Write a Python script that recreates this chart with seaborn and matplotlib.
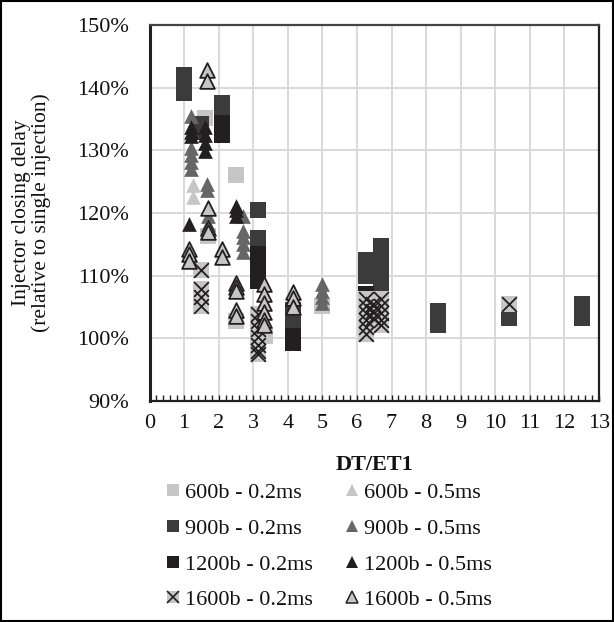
import matplotlib
matplotlib.use("Agg")
import matplotlib.pyplot as plt
from matplotlib.lines import Line2D
from matplotlib.legend_handler import HandlerTuple
from matplotlib.patches import Rectangle
from matplotlib.ticker import MultipleLocator, FuncFormatter
import seaborn as sns
import pandas as pd

# DT/ET1 ratio and closing delay (% of single injection) per rail pressure / ET1
x_600_02 = [1.6, 2.5, 2.5, 3.35, 5.0, 1.7]
y_600_02 = [135.2, 126.0, 102.8, 100.3, 105.2, 116.3]

x_600_05 = [1.25, 1.25]
y_600_05 = [124.5, 122.6]

x_900_02 = [1.0, 1.0, 1.0, 2.1, 2.1, 1.5, 1.5, 3.13, 3.13, 4.15, 4.15, 4.15,
            6.26, 6.26, 6.26, 6.7, 6.7, 6.7, 6.7, 6.7, 8.35, 8.35, 8.35,
            10.4, 12.5, 12.5, 12.5]
y_900_02 = [142.0, 140.6, 139.2, 137.5, 136.3, 134.2, 133.0, 120.5, 116.0,
            104.5, 103.5, 102.6, 112.5, 111.2, 110.0, 114.7, 113.0, 111.2,
            109.5, 108.0, 104.3, 103.2, 102.2, 103.3, 105.4, 104.3, 103.2]

x_900_05 = [1.2, 1.2, 1.2, 1.2, 1.2, 1.67, 1.67, 1.7, 1.7, 2.7, 2.7, 2.7,
            2.7, 2.7, 5.0, 5.0, 5.0, 5.0]
y_900_05 = [135.5, 130.3, 129.2, 128.1, 127.0, 124.7, 123.7, 119.5, 118.2,
            119.6, 117.2, 116.2, 115.0, 113.8, 108.6, 107.6, 106.6, 105.6]

x_1200_02 = [2.1, 2.1, 2.1, 3.13, 3.13, 3.13, 3.13, 4.15, 4.15, 6.26]
y_1200_02 = [134.4, 133.4, 132.4, 113.4, 112.0, 110.6, 109.2, 100.3, 99.2, 107.0]

x_1200_05 = [1.2, 1.2, 1.2, 1.6, 1.6, 1.6, 1.6, 1.15, 2.5, 2.5, 2.5]
y_1200_05 = [133.7, 133.0, 132.3, 133.7, 132.4, 131.2, 129.9, 118.3, 121.1,
             120.4, 119.6]

x_1600_02 = [1.5, 1.5, 1.5, 1.5, 3.13, 3.13, 3.13, 3.13, 3.13, 3.13, 3.13,
             6.26, 6.26, 6.26, 6.26, 6.26, 6.26, 6.45, 6.45, 6.45,
             6.7, 6.7, 6.7, 6.7, 6.7, 10.4]
y_1600_02 = [110.9, 107.9, 106.6, 105.2, 103.9, 102.8, 101.5, 100.2, 99.0,
             98.0, 97.5, 106.3, 105.2, 104.0, 103.0, 101.8, 100.7, 105.5,
             104.3, 103.3, 106.3, 105.2, 104.0, 103.0, 102.1, 105.4]

x_1600_05 = [1.65, 1.65, 1.7, 1.7, 1.7, 1.15, 1.15, 1.15, 2.1, 2.1, 2.5, 2.5,
             2.5, 2.5, 2.5, 3.3, 3.3, 3.3, 3.3, 3.3, 3.3, 4.15, 4.15, 4.15]
y_1600_05 = [142.8, 141.0, 120.8, 117.6, 116.9, 114.3, 113.4, 112.4, 114.2,
             113.0, 108.8, 108.2, 107.6, 104.6, 103.6, 108.7, 107.0, 105.6,
             104.2, 103.0, 102.2, 107.4, 106.4, 105.0]

x_ticks = list(range(0, 14))
y_ticks = [90, 100, 110, 120, 130, 140, 150]

sns.set_theme(style="white")
plt.rcParams["font.family"] = ["Liberation Serif", "DejaVu Serif"]

C_LIGHT = "#c6c6c6"
C_DARK = "#3b3b3b"
C_MID = "#666666"
C_BLACK = "#231f20"
C_TEXT = "#111111"
FS = 16

fig = plt.figure(figsize=(6.14, 6.22), dpi=100)
ax = fig.add_axes([0.2435, 0.3553, 0.7321, 0.6045])

SQ = 118
TR = 112


def draw(xs, ys, z, **kw):
    df = pd.DataFrame({"DT/ET1": xs, "delay": ys})
    sns.scatterplot(data=df, x="DT/ET1", y="delay", ax=ax, legend=False,
                    zorder=z, **kw)


draw(x_600_02, y_600_02, 3, marker="s", s=SQ, color=C_LIGHT, linewidth=0)
draw(x_600_05, y_600_05, 4, marker="^", s=TR, color=C_LIGHT, linewidth=0)
draw(x_900_02, y_900_02, 5, marker="s", s=SQ, color=C_DARK, linewidth=0)
draw(x_900_05, y_900_05, 6, marker="^", s=TR, color=C_MID, linewidth=0)
draw(x_1200_02, y_1200_02, 7, marker="s", s=SQ, color=C_BLACK, linewidth=0)
draw(x_1200_05, y_1200_05, 8, marker="^", s=TR, color=C_BLACK, linewidth=0)
draw(x_1600_02, y_1600_02, 9, marker="s", s=SQ, color=C_LIGHT, linewidth=0)
draw(x_1600_02, y_1600_02, 9.5, marker="x", s=SQ * 0.95, color=C_BLACK,
     linewidth=1.3)
draw(x_1600_05, y_1600_05, 10, marker="^", s=TR, color=C_LIGHT,
     edgecolor=C_BLACK, linewidth=1.3)

ax.set_xlim(0, 13)
ax.set_ylim(90, 150)
ax.set_xticks(x_ticks)
ax.set_yticks(y_ticks)
ax.xaxis.set_minor_locator(MultipleLocator(0.2))
ax.yaxis.set_major_formatter(FuncFormatter(lambda v, p: f"{v:.0f}%"))
ax.grid(True, which="major", color="#d9d9d9", linewidth=1.4, zorder=0)
ax.set_axisbelow(True)

for side, sp in ax.spines.items():
    sp.set_visible(True)
    sp.set_color(C_BLACK)
    sp.set_linewidth(1.6)
ax.spines["left"].set_linewidth(2.2)
ax.spines["top"].set_color("#444444")

ax.tick_params(axis="x", which="both", direction="in", length=4, width=1,
               color=C_BLACK, bottom=True, top=False, labelsize=FS, pad=9,
               labelcolor=C_TEXT)
ax.tick_params(axis="y", length=0, labelsize=FS, pad=15, labelcolor=C_TEXT)

ax.set_xlabel("DT/ET1", fontsize=FS, fontweight="bold", labelpad=16,
              color=C_TEXT)
ax.set_ylabel("Injector closing delay\n(relative to single injection)",
              fontsize=15.5, color=C_TEXT, linespacing=1.0, va="center")
ax.yaxis.set_label_coords(-0.262, 0.5)

ms = 8
h_600_02 = Line2D([], [], ls="", marker="s", ms=ms, color=C_LIGHT, mew=0)
h_600_05 = Line2D([], [], ls="", marker="^", ms=ms, color=C_LIGHT, mew=0)
h_900_02 = Line2D([], [], ls="", marker="s", ms=ms, color=C_DARK, mew=0)
h_900_05 = Line2D([], [], ls="", marker="^", ms=ms, color=C_MID, mew=0)
h_1200_02 = Line2D([], [], ls="", marker="s", ms=ms, color=C_BLACK, mew=0)
h_1200_05 = Line2D([], [], ls="", marker="^", ms=ms, color=C_BLACK, mew=0)
h_1600_02a = Line2D([], [], ls="", marker="s", ms=ms, color=C_LIGHT, mew=0)
h_1600_02b = Line2D([], [], ls="", marker="x", ms=ms, color=C_BLACK, mew=1.2)
h_1600_05 = Line2D([], [], ls="", marker="^", ms=ms, mfc=C_LIGHT,
                   mec=C_BLACK, mew=1.1)

handles = [h_600_02, h_900_02, h_1200_02, (h_1600_02a, h_1600_02b),
           h_600_05, h_900_05, h_1200_05, h_1600_05]
labels = ["600b - 0.2ms", "900b - 0.2ms", "1200b - 0.2ms", "1600b - 0.2ms",
          "600b - 0.5ms", "900b - 0.5ms", "1200b - 0.5ms", "1600b - 0.5ms"]

fig.legend(handles, labels, ncol=2, loc="upper left",
           bbox_to_anchor=(0.271, 0.224), frameon=False, fontsize=FS,
           handlelength=0.6, handletextpad=0.25, columnspacing=1.45,
           labelspacing=0.68, borderpad=0, borderaxespad=0,
           handler_map={tuple: HandlerTuple(ndivide=1)},
           labelcolor=C_TEXT)

fig.patches.append(Rectangle((0.002, 0.002), 0.996, 0.996,
                             transform=fig.transFigure, fill=False,
                             edgecolor="black", linewidth=1.5))

fig.savefig("out.png", dpi=100)
